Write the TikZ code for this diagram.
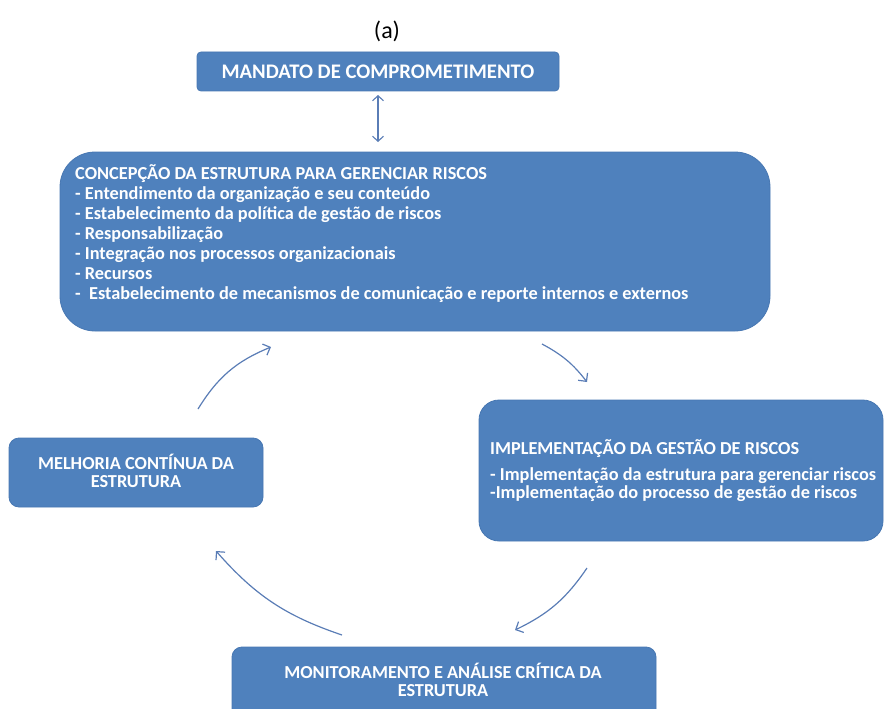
\documentclass[tikz,border=0pt]{standalone}
\usepackage{fontspec}
\setmainfont{Carlito}
\usetikzlibrary{arrows.meta}
\definecolor{boxblue}{HTML}{4F81BD}
\definecolor{boxedge}{HTML}{4777B2}
\definecolor{arrowblue}{HTML}{5A7DB6}
\begin{document}
\begin{tikzpicture}[x=1pt,y=-1pt,
  box/.style={fill=boxblue, draw=boxedge, line width=0.8pt, inner sep=0pt},
  txt/.style={text=white, inner sep=0pt},
  cyc/.style={draw=arrowblue, line width=1.2pt, -{Straight Barb[length=6pt,width=12pt]}},
  dbl/.style={draw=arrowblue, line width=1.1pt, {Straight Barb[length=5pt,width=11pt]}-{Straight Barb[length=5pt,width=11pt]}}]
\path[use as bounding box] (0,0) rectangle (884,709);
\clip (0,0) rectangle (884,709);
\node[inner sep=0pt, font=\fontsize{24}{28}\selectfont] (lab) at (387,31) {(a)};
% boxes
\node[box, rounded corners=4pt, minimum width=362pt, minimum height=39pt] (mand) at (378,71.5) {};
\node[box, rounded corners=35pt, minimum width=710pt, minimum height=179pt] (conc) at (415,241.5) {};
\node[box, rounded corners=20pt, minimum width=404pt, minimum height=141pt] (impl) at (681,470.5) {};
\node[box, rounded corners=10pt, minimum width=254pt, minimum height=69pt] (melh) at (136,472.5) {};
\node[box, rounded corners=10pt, minimum width=424pt, minimum height=80pt] (moni) at (444,687) {};
% texts
\node[txt, font=\fontsize{20.7}{24}\selectfont\bfseries] (mandt) at (mand) {MANDATO DE COMPROMETIMENTO};
\node[txt, anchor=base west, font=\fontsize{18.3}{20}\selectfont\bfseries] (conct) at (75,179)
 {\begin{tabular}[t]{@{}l@{}}
 CONCEPÇÃO DA ESTRUTURA PARA GERENCIAR RISCOS\\
 - Entendimento da organização e seu conteúdo\\
 - Estabelecimento da política de gestão de riscos\\
 - Responsabilização\\
 - Integração nos processos organizacionais\\
 - Recursos\\
 -~ Estabelecimento de mecanismos de comunicação e reporte internos e externos
 \end{tabular}};
\node[txt, anchor=base west, font=\fontsize{18.3}{20}\selectfont\bfseries] (implt) at (490,454)
 {IMPLEMENTAÇÃO DA GESTÃO DE RISCOS};
\node[txt, anchor=base west, font=\fontsize{18.3}{18}\selectfont\bfseries] (implb) at (490,480)
 {\begin{tabular}[t]{@{}l@{}}
 - Implementação da estrutura para gerenciar riscos\\
 -Implementação do processo de gestão de riscos
 \end{tabular}};
\node[txt, anchor=base, font=\fontsize{18.3}{18.5}\selectfont\bfseries] (melht) at (136,469)
 {\begin{tabular}[t]{@{}c@{}}
 MELHORIA CONTÍNUA DA\\
 ESTRUTURA
 \end{tabular}};
\node[txt, anchor=base, font=\fontsize{18.3}{18}\selectfont\bfseries] (monit) at (443,678)
 {\begin{tabular}[t]{@{}c@{}}
 MONITORAMENTO E ANÁLISE CRÍTICA DA\\
 ESTRUTURA
 \end{tabular}};
% arrow end points
\coordinate (m1) at (378,95);
\coordinate (m2) at (378,142);
\coordinate (a1s) at (198,409);
\coordinate (a1e) at (271,347);
\coordinate (a2s) at (542,344);
\coordinate (a2e) at (587,382);
\coordinate (a3s) at (587,568);
\coordinate (a3e) at (515,630);
\coordinate (a4s) at (342,635);
\coordinate (a4e) at (216,551);
\draw[dbl] (m1) -- (m2);
\draw[cyc] (a1s) to[bend left=18] (a1e);
\draw[cyc] (a2s) to[bend left=12] (a2e);
\draw[cyc] (a3s) to[bend left=15] (a3e);
\draw[cyc] (a4s) to[bend left=15] (a4e);
\end{tikzpicture}
\end{document}
